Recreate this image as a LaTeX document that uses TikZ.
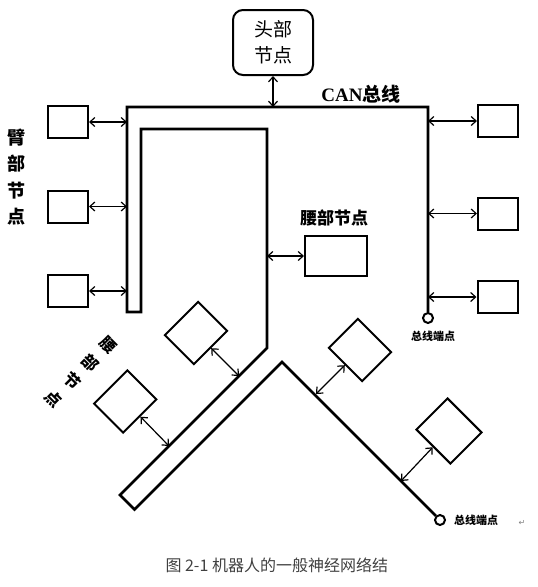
\documentclass[tikz,border=0pt]{standalone}
\usepackage{fontspec}
\setmainfont{Liberation Serif}
\newfontfamily\cjk{Noto Sans CJK SC}
\newfontfamily\symf{DejaVu Sans}
\usetikzlibrary{arrows.meta}
\begin{document}
\begin{tikzpicture}[x=1pt,y=-1pt,
  bus/.style={line width=2.8pt, line join=miter},
  box/.style={draw, line width=2pt, minimum width=40pt, minimum height=32pt, inner sep=0pt},
  dbox/.style={draw, line width=2pt, minimum width=47pt, minimum height=41pt, inner sep=0pt},
  link/.style={line width=1.2pt, {Straight Barb[length=5pt,width=9pt]}-{Straight Barb[length=5pt,width=9pt]}},
  endpt/.style={circle, draw, line width=2pt, minimum size=10pt, inner sep=0pt},
  lbl/.style={font=\cjk\bfseries\fontsize{17}{17}\selectfont},
  small/.style={font=\cjk\bfseries\fontsize{11}{11}\selectfont}]
\useasboundingbox (0,0) rectangle (538,587);

% head node
\node[draw, line width=2pt, rounded corners=10pt, minimum width=80pt, minimum height=65pt,
      align=center, inner sep=0pt, font=\cjk\fontsize{19}{26}\selectfont] (head) at (273,42.5) {头部\\节点};

% bus end points
\node[endpt] (e1) at (428,318) {};
\node[endpt] (e2) at (440,520) {};

% bus
\draw[bus] (e1) -- (428,107) -- (127,107) -- (127,312) -- (141,312) -- (141,129) -- (267,129)
  -- (267,348) -- (120,495) -- (134.5,509.5) -- (282,362) -- (e2);

% labels
\node[font=\bfseries\fontsize{19}{19}\selectfont] (can) at (361,94) {CAN{\cjk 总线}};
\node[small] (t1) at (433,336) {总线端点};
\node[small] (t2) at (476,520) {总线端点};
\node[font=\symf\fontsize{8}{8}\selectfont, text=gray] (ret) at (522,523) {↵};
\node[font=\cjk\bfseries\fontsize{18}{26.5}\selectfont, align=center] (arm) at (16,177) {臂\\部\\节\\点};
\node[lbl] (waistl) at (334,218) {腰部节点};
\node[font=\cjk\bfseries\fontsize{16}{25.7}\selectfont, align=center, rotate=-45] (waistl2) at (81,372) {腰\\部\\节\\点};

% arm nodes
\node[box] (l1) at (68,122) {};
\node[box] (l2) at (68,206.5) {};
\node[box] (l3) at (68,291) {};
\coordinate (bl1) at (127,122);
\coordinate (bl2) at (127,206.5);
\coordinate (bl3) at (127,291);
\draw[link] (l1.east) -- (bl1);
\draw[link] (l2.east) -- (bl2);
\draw[link] (l3.east) -- (bl3);

% right nodes
\node[box] (r1) at (498,121) {};
\node[box] (r2) at (498,213.5) {};
\node[box] (r3) at (497.5,297) {};
\coordinate (br1) at (428,121);
\coordinate (br2) at (428,213.5);
\coordinate (br3) at (428,297);
\draw[link] (br1) -- (r1.west);
\draw[link] (br2) -- (r2.west);
\draw[link] (br3) -- (r3.west);

% head link
\coordinate (bh) at (273,107);
\draw[link] (head.south) -- (bh);

% waist node
\node[box, minimum width=62pt, minimum height=40pt] (wb) at (336,256) {};
\coordinate (bw) at (267,256);
\draw[link] (bw) -- (wb.west);

% leg nodes (rotated)
\node[dbox, rotate=45] (d1) at (196,333) {};
\node[dbox, rotate=45] (d2) at (125.25,401.5) {};
\node[dbox, rotate=-45] (d3) at (360,350) {};
\node[dbox, rotate=-45, minimum width=48pt, minimum height=44pt] (d4) at (449,431) {};
\coordinate (bd1) at (239,376);
\coordinate (bd2) at (169,446);
\coordinate (bd3) at (316,394);
\coordinate (bd4) at (401,481);
\draw[link] (d1.south) -- (bd1);
\draw[link] (d2.south) -- (bd2);
\draw[link] (d3.south) -- (bd3);
\draw[link] (d4.south) -- (bd4);

% caption
\node[font=\cjk\fontsize{16}{16}\selectfont, text=black!75, anchor=west] (cap) at (162,565) {图 2-1 机器人的一般神经网络结};
\end{tikzpicture}
\end{document}
